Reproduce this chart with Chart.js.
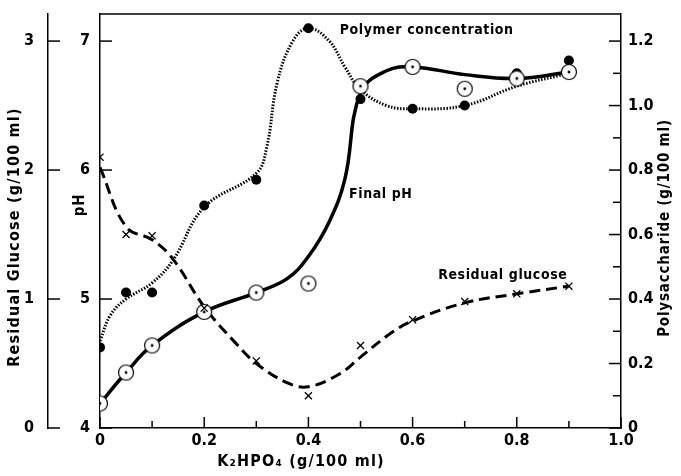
<!DOCTYPE html>
<html>
<head>
<meta charset="utf-8">
<script src="https://cdn.jsdelivr.net/npm/chart.js@4"></script>
<style>
  html, body { margin: 0; padding: 0; background: #fff; }
</style>
</head>
<body>
<canvas id="grafik" width="681" height="476"></canvas>
<script>
// titik percobaan
const k2hpo4 = [0, 0.05, 0.1, 0.2, 0.3, 0.4, 0.5, 0.6, 0.7, 0.8, 0.9];
const glukosaTitik = [2.10, 1.50, 1.49, 0.93, 0.52, 0.25, 0.64, 0.84, 0.98, 1.04, 1.10];
const phTitik = [4.19, 4.43, 4.64, 4.90, 5.05, 5.12, 6.65, 6.80, 6.63, 6.71, 6.76];
const polimerTitik = [0.25, 0.42, 0.42, 0.69, 0.77, 1.24, 1.02, 0.99, 1.00, 1.10, 1.14];

// kurva yang digambar tangan
const glukosaKurvaX = [0, 0.05, 0.1, 0.14, 0.2, 0.26, 0.3, 0.36, 0.4, 0.46, 0.5, 0.56, 0.6, 0.7, 0.8, 0.9];
const glukosaKurvaY = [2.02, 1.56, 1.46, 1.31, 0.94, 0.66, 0.5, 0.35, 0.32, 0.42, 0.55, 0.74, 0.83, 0.97, 1.04, 1.10];
const phKurvaX = [0, 0.05, 0.1, 0.2, 0.3, 0.36, 0.4, 0.44, 0.47, 0.5, 0.55, 0.6, 0.7, 0.8, 0.9];
const phKurvaY = [4.19, 4.43, 4.64, 4.9, 5.05, 5.16, 5.33, 5.6, 5.93, 6.6, 6.77, 6.8, 6.74, 6.71, 6.76];
const polimerKurvaX = [0, 0.02, 0.05, 0.1, 0.14, 0.2, 0.3, 0.32, 0.34, 0.37, 0.4, 0.44, 0.47, 0.5, 0.55, 0.6, 0.7, 0.8, 0.9];
const polimerKurvaY = [0.27, 0.35, 0.40, 0.45, 0.52, 0.685, 0.79, 0.87, 1.07, 1.20, 1.24, 1.20, 1.12, 1.05, 1.0, 0.99, 1.0, 1.06, 1.10];

// tick
const xTicks = [0, 0.2, 0.4, 0.6, 0.8, 1.0];
const xMinor = [0.1, 0.3, 0.5, 0.7, 0.9];
const glukosaTicks = [0, 1, 2, 3];
const phTicks = [4, 5, 6, 7];
const polyTicks = [0, 0.2, 0.4, 0.6, 0.8, 1.0, 1.2];
const polyMinor = [0.1, 0.3, 0.5, 0.7, 0.9, 1.1];

const hurufTick = { family: 'DejaVu Sans Condensed', weight: 'bold', size: 16 };

function gabung(xs, ys) {
    return xs.map((x, i) => ({ x: x, y: ys[i] }));
}

function buatPenanda() {
    const cv = document.createElement('canvas');
    cv.width = 18; cv.height = 18;
    const g = cv.getContext('2d');
    g.fillStyle = '#fff'; g.strokeStyle = '#000'; g.lineWidth = 1.2;
    g.beginPath(); g.arc(9, 9, 7.5, 0, Math.PI * 2); g.fill(); g.stroke();
    g.fillStyle = '#000';
    g.beginPath(); g.arc(9, 9, 1.4, 0, Math.PI * 2); g.fill();
    return cv;
}

function pasangTicks(daftar) {
    return sc => { sc.ticks = daftar.map(v => ({ value: v })); };
}

function garis(c, x1, y1, x2, y2) {
    c.beginPath(); c.moveTo(x1, y1); c.lineTo(x2, y2); c.stroke();
}

const hiasan = {
    id: 'hiasan',
    afterDraw(chart) {
        const c = chart.ctx;
        const a = chart.chartArea;
        const s = chart.scales;
        c.save();
        c.strokeStyle = '#000';
        c.fillStyle = '#000';
        c.lineWidth = 1.5;

        // garis atas kotak
        garis(c, a.left, a.top, a.right, a.top);

        // tick menghadap ke dalam
        const gx = s.yGlu.right;
        glukosaTicks.forEach(v => { const y = s.yGlu.getPixelForValue(v); garis(c, gx, y, gx + 12, y); });
        phTicks.forEach(v => { const y = s.yPh.getPixelForValue(v); garis(c, a.left, y, a.left + 12, y); });
        polyTicks.forEach(v => { const y = s.yPoly.getPixelForValue(v); garis(c, a.right, y, a.right - 12, y); });
        polyMinor.forEach(v => { const y = s.yPoly.getPixelForValue(v); garis(c, a.right, y, a.right - 8, y); });
        xTicks.forEach(v => { const x = s.x.getPixelForValue(v); garis(c, x, a.bottom, x, a.bottom - 11); });
        xMinor.forEach(v => { const x = s.x.getPixelForValue(v); garis(c, x, a.bottom, x, a.bottom - 7); });

        // label kurva
        c.font = 'bold 14px "DejaVu Sans Condensed"';
        c.letterSpacing = '0.6px';
        c.textBaseline = 'middle';
        c.textAlign = 'left';
        c.fillText('Polymer concentration', s.x.getPixelForValue(0.46), s.yPh.getPixelForValue(7.08));
        c.fillText('Final pH', s.x.getPixelForValue(0.478), s.yPh.getPixelForValue(5.81));
        c.fillText('Residual glucose', s.x.getPixelForValue(0.649), s.yGlu.getPixelForValue(1.18));

        // judul sumbu
        c.textAlign = 'center';
        c.font = 'bold 16px "DejaVu Sans Condensed"';
        c.letterSpacing = '1.2px';
        c.fillText('K\u2082HPO\u2084 (g/100 ml)', 301, 462);
        const putar = (teks, x, y) => {
            c.save(); c.translate(x, y); c.rotate(-Math.PI / 2);
            c.fillText(teks, 0, 0); c.restore();
        };
        putar('Residual Glucose (g/100 ml)', 15, 237);
        c.font = 'bold 15px "DejaVu Sans Condensed"';
        c.letterSpacing = '0.8px';
        putar('pH', 80, 205);
        putar('Polysaccharide (g/100 ml)', 665, 228);
        c.restore();
    }
};

const sumbuY = (posisi, min, max, ticks, lebar, padding, bobot, fmt) => ({
    type: 'linear',
    position: posisi,
    min: min,
    max: max,
    weight: bobot,
    afterBuildTicks: pasangTicks(ticks),
    afterFit: sc => { sc.width = lebar; sc.paddingTop = 0; sc.paddingBottom = 0; },
    grid: { display: true, drawOnChartArea: false, drawTicks: false },
    border: { display: true, color: '#000', width: 1.5 },
    ticks: { color: '#000', font: hurufTick, padding: padding, callback: fmt }
});

const formatDesimal = v => (v === 0 ? '0' : v.toFixed(1));

const grafik = new Chart(document.getElementById('grafik'), {
    data: {
        datasets: [
            {
                type: 'scatter', label: 'Residual glucose titik', data: gabung(k2hpo4, glukosaTitik),
                yAxisID: 'yGlu', pointStyle: 'crossRot', pointRadius: 5, borderColor: '#000',
                borderWidth: 1.3, order: 1
            },
            {
                type: 'scatter', label: 'pH titik', data: gabung(k2hpo4, phTitik),
                yAxisID: 'yPh', pointStyle: buatPenanda(), pointRadius: 9, order: 1
            },
            {
                type: 'scatter', label: 'Polimer titik', data: gabung(k2hpo4, polimerTitik),
                yAxisID: 'yPoly', pointStyle: 'circle', pointRadius: 5, backgroundColor: '#000',
                borderColor: '#000', borderWidth: 0, order: 1
            },
            {
                type: 'line', label: 'Residual glucose', data: gabung(glukosaKurvaX, glukosaKurvaY),
                yAxisID: 'yGlu', borderColor: '#000', borderWidth: 3, borderDash: [11, 6],
                pointRadius: 0, tension: 0.4, fill: false, order: 2
            },
            {
                type: 'line', label: 'Final pH', data: gabung(phKurvaX, phKurvaY),
                yAxisID: 'yPh', borderColor: '#000', borderWidth: 3.5,
                pointRadius: 0, tension: 0.4, fill: false, order: 2
            },
            {
                type: 'line', label: 'Polymer concentration', data: gabung(polimerKurvaX, polimerKurvaY),
                yAxisID: 'yPoly', borderColor: '#000', borderWidth: 3, borderDash: [1.5, 1.6],
                pointRadius: 0, tension: 0.4, fill: false, order: 2
            }
        ]
    },
    options: {
        responsive: false,
        animation: false,
        devicePixelRatio: 1,
        layout: { padding: { top: 14, left: 0, right: 0, bottom: 0 } },
        plugins: { legend: { display: false }, tooltip: { enabled: false } },
        scales: {
            x: {
                type: 'linear', min: 0, max: 1,
                afterBuildTicks: pasangTicks(xTicks),
                afterFit: sc => { sc.height = 48; sc.paddingLeft = 0; sc.paddingRight = 0; },
                grid: { display: true, drawOnChartArea: false, drawTicks: false },
                border: { display: true, color: '#000', width: 1.5 },
                ticks: { color: '#000', font: hurufTick, padding: 3, maxRotation: 0, callback: formatDesimal }
            },
            yGlu: sumbuY('left', 0, 3.21, glukosaTicks, 48, 14, 10, v => String(v)),
            yPh: sumbuY('left', 4, 7.21, phTicks, 52, 10, 0, v => String(v)),
            yPoly: sumbuY('right', 0, 1.284, polyTicks, 60, 7, 0, formatDesimal)
        }
    },
    plugins: [hiasan]
});
</script>
</body>
</html>
